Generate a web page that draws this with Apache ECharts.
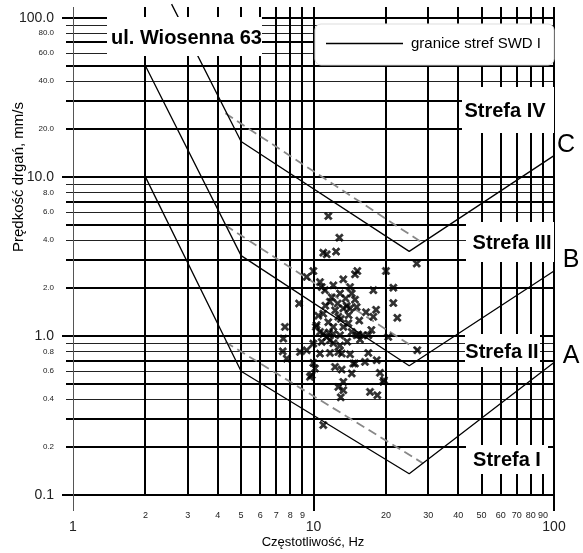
<!DOCTYPE html>
<html>
<head>
<meta charset="utf-8">
<script src="https://cdn.jsdelivr.net/npm/echarts@6/dist/echarts.min.js"></script>
<style>
  html, body { margin: 0; padding: 0; background: #fff; }
  #chart { width: 583px; height: 553px; }
</style>
</head>
<body>
<div id="chart"></div>
<script>
// ── Dane ──────────────────────────────────────────────────────────────
const X_MIN = 1, X_MAX = 100;
const Y_MIN = 0.1, Y_MAX = 117;

const xGrid = [1, 2, 3, 4, 5, 6, 7, 8, 9, 10, 20, 30, 40, 50, 60, 70, 80, 90, 100];
const yGrid = [0.1, 0.2, 0.3, 0.4, 0.5, 0.6, 0.7, 0.8, 0.9,
               1, 2, 3, 4, 5, 6, 7, 8, 9,
               10, 20, 30, 40, 50, 60, 70, 80, 90, 100];

const xTickVals = [1, 2, 3, 4, 5, 6, 7, 8, 9, 10, 20, 30, 40, 50, 60, 70, 80, 90, 100];
const xTickText = ['1', '2', '3', '4', '5', '6', '7', '8', '9', '10', '20', '30', '40', '50', '60', '70', '80', '90', '100'];
const yTickVals = [0.1, 0.2, 0.4, 0.6, 0.8, 1, 2, 4, 6, 8, 10, 20, 40, 60, 80, 100];
const yTickText = ['0.1', '0.2', '0.4', '0.6', '0.8', '1.0', '2.0', '4.0', '6.0', '8.0', '10.0', '20.0', '40.0', '60.0', '80.0', '100.0'];

// granice stref (solid) i linie przerywane
const lineA = [[2, 10], [5, 0.6], [25, 0.136], [100, 0.68]];
const lineB = [[2, 50], [5, 3.2], [25, 0.65], [100, 2.56]];
const lineC = [[2.57, 122], [5, 16.7], [25, 3.4], [100, 13.6]];
const dashA = [[4.3, 0.916], [28.6, 0.158]];
const dashB = [[4.3, 4.96], [29.2, 0.76]];
const dashC = [[4.3, 25.1], [28.3, 3.86]];

// pomiary [Hz, mm/s]
const pomiary = [
  [11.52, 5.67], [12.81, 4.15], [10.98, 3.34], [11.35, 3.26], [12.41, 3.39],
  [26.86, 2.85], [20.02, 2.56], [15.21, 2.56], [14.88, 2.44], [9.98, 2.56],
  [9.37, 2.35], [10.64, 2.18], [13.3, 2.27], [17.73, 1.94], [21.47, 2.01],
  [10.82, 2.03], [11.16, 1.94], [12.09, 2.08], [12.89, 1.85], [14.19, 2.03],
  [14.42, 1.85], [8.71, 1.6], [21.47, 1.61], [22.31, 1.3], [11.71, 1.64],
  [14.88, 1.69], [13.75, 1.54], [13.3, 1.49], [14.19, 1.49], [15.12, 1.52],
  [16.53, 1.41], [18.2, 1.46], [17.73, 1.32], [10.47, 1.34], [10.98, 1.38],
  [11.52, 1.22], [12.68, 1.32], [12.09, 1.14], [13.96, 1.2], [14.42, 1.06],
  [10.24, 1.14], [7.61, 1.14], [7.49, 0.963], [10.64, 1.06], [10.82, 0.917],
  [11.35, 0.986], [11.71, 0.94], [12.89, 1.01], [15.36, 1.02], [16.9, 1.01],
  [20.46, 0.986], [15.61, 0.949], [9.37, 0.813], [8.79, 0.793], [10.64, 0.775],
  [11.71, 0.782], [12.68, 0.793], [13.1, 0.775], [14.19, 0.767], [16.9, 0.782],
  [27.02, 0.813], [7.45, 0.8], [7.74, 0.72], [9.98, 0.677], [18.32, 0.704],
  [16.37, 0.687], [14.88, 0.671], [12.29, 0.639], [13.1, 0.615], [10.14, 0.624],
  [9.83, 0.567], [14.42, 0.581], [18.9, 0.586], [9.67, 0.553], [14.64, 0.671],
  [19.64, 0.527], [13.3, 0.514], [12.68, 0.478], [13.3, 0.456], [17.18, 0.445],
  [18.42, 0.424], [12.98, 0.411], [10.98, 0.275], [19.51, 0.514],
  [10.3, 1.17], [10.98, 1.03], [12.09, 1.03], [13.3, 1.14], [15.12, 1.01],
  [16.0, 1.01], [17.4, 1.09], [9.98, 0.895], [12.89, 0.87], [11.9, 1.75],
  [12.6, 1.6], [13.6, 1.72], [11.2, 1.55], [12.3, 1.45], [13.0, 1.28],
  [14.0, 1.35], [15.5, 1.25], [11.6, 1.05], [13.8, 0.92], [12.1, 0.9]
];

// ── Pomocnicze ────────────────────────────────────────────────────────
const FONT = '"Liberation Sans", Arial, sans-serif';

function mant(v) {
  const e = Math.floor(Math.log10(v) + 1e-9);
  return Math.round(v / Math.pow(10, e));
}

function hLine(params, api) {
  const v = api.value(1);
  const l = api.coord([X_MIN, v]);
  const r = api.coord([X_MAX, v]);
  const m = mant(v);
  const thick = [1, 2, 3, 5, 7].indexOf(m) >= 0;
  const w = thick ? 2 : 1;
  const y = thick ? Math.round(l[1]) : Math.round(l[1] - 0.5) + 0.5;
  const x0 = l[0] - (m === 1 ? 11 : 7);
  return {
    type: 'line',
    shape: { x1: x0, y1: y, x2: r[0], y2: y },
    style: { stroke: thick ? '#000' : '#222', lineWidth: w }
  };
}

function vLine(params, api) {
  const v = api.value(0);
  const t = api.coord([v, Y_MAX]);
  const b = api.coord([v, Y_MIN]);
  const major = mant(v) === 1;
  if (v === 1) {
    const x = Math.round(t[0]) + 0.5;
    return { type: 'line', shape: { x1: x, y1: t[1], x2: x, y2: b[1] + 16 }, style: { stroke: '#555', lineWidth: 1 } };
  }
  const x = Math.round(t[0]);
  return {
    type: 'line',
    shape: { x1: x, y1: t[1], x2: x, y2: b[1] + (major ? 16 : 0) },
    style: { stroke: '#000', lineWidth: 2 }
  };
}

function xLabel(params, api) {
  const v = api.value(0);
  const p = api.coord([v, Y_MIN]);
  const major = mant(v) === 1;
  return {
    type: 'text',
    style: {
      x: p[0], y: p[1] + (major ? 32 : 21),
      text: xTickText[params.dataIndex],
      align: 'center', verticalAlign: 'middle',
      font: (major ? '14px ' : '9px ') + FONT,
      fill: '#222'
    }
  };
}

function yLabel(params, api) {
  const v = api.value(1);
  const p = api.coord([X_MIN, v]);
  const major = mant(v) === 1;
  return {
    type: 'text',
    style: {
      x: p[0] - 19, y: p[1] + (major ? 0.5 : 0),
      text: yTickText[params.dataIndex],
      align: 'right', verticalAlign: 'middle',
      font: (major ? '14px ' : '8px ') + FONT,
      fill: '#222'
    }
  };
}

function solid(data) {
  return {
    type: 'line', data: data, showSymbol: false, clip: false, silent: true, z: 3,
    lineStyle: { color: '#000', width: 1.3 }
  };
}
function dashed(data) {
  return {
    type: 'line', data: data, showSymbol: false, clip: false, silent: true, z: 3,
    lineStyle: { color: '#888', width: 1.8, type: [9, 5] }
  };
}

function box(x, y, w, h, r) {
  return { type: 'rect', z: 100, shape: { x: x, y: y, width: w, height: h, r: r || 0 }, style: { fill: '#fff' } };
}
function txt(x, y, s, font, align) {
  return { type: 'text', z: 101, style: { x: x, y: y, text: s, font: font, fill: '#000', align: align || 'center', verticalAlign: 'middle' } };
}

const chart = echarts.init(document.getElementById('chart'), null, { renderer: 'canvas' });

chart.setOption({
  animation: false,
  backgroundColor: '#fff',
  grid: { left: 73, right: 29, top: 7, bottom: 58 },
  xAxis: { type: 'log', logBase: 10, min: X_MIN, max: X_MAX, show: false },
  yAxis: { type: 'log', logBase: 10, min: Y_MIN, max: Y_MAX, show: false },
  series: [
    { type: 'custom', z: 1, silent: true, clip: false, renderItem: hLine, data: yGrid.map(function (v) { return [1, v]; }) },
    { type: 'custom', z: 1, silent: true, clip: false, renderItem: vLine, data: xGrid.map(function (v) { return [v, 1]; }) },
    { type: 'custom', z: 1, silent: true, clip: false, renderItem: xLabel, data: xTickVals.map(function (v) { return [v, 1]; }) },
    { type: 'custom', z: 1, silent: true, clip: false, renderItem: yLabel, data: yTickVals.map(function (v) { return [1, v]; }) },
    dashed(dashA), dashed(dashB), dashed(dashC),
    solid(lineA), solid(lineB), solid(lineC),
    {
      type: 'scatter', z: 4, silent: true,
      // gruby krzyżyk
      symbol: 'path://M0,2 L2,0 L5,3 L8,0 L10,2 L7,5 L10,8 L8,10 L5,7 L2,10 L0,8 L3,5 Z',
      symbolSize: 8,
      itemStyle: { color: '#000', borderColor: '#000', borderWidth: 0.6 },
      data: pomiary
    }
  ],
  graphic: [
    // tytuł
    box(107, 17, 155, 39),
    txt(111, 38, 'ul. Wiosenna 63', 'bold 20px ' + FONT, 'left'),
    // legenda
    { type: 'rect', z: 100, shape: { x: 315, y: 24, width: 239, height: 41, r: 6 }, style: { fill: '#fff', stroke: '#ddd', lineWidth: 1 } },
    { type: 'line', z: 101, shape: { x1: 326, y1: 43.5, x2: 403, y2: 43.5 }, style: { stroke: '#000', lineWidth: 1.3 } },
    txt(411, 44, 'granice stref SWD I', '15px ' + FONT, 'left'),
    // strefy
    box(462, 87, 92, 46), txt(505, 111, 'Strefa IV', 'bold 20px ' + FONT),
    box(466, 222, 88, 40), txt(512, 243, 'Strefa III', 'bold 20px ' + FONT),
    box(465, 334, 75, 33), txt(502, 352, 'Strefa II', 'bold 20px ' + FONT),
    box(466, 445, 82, 29), txt(507, 460, 'Strefa I', 'bold 20px ' + FONT),
    // litery granic
    txt(566, 145, 'C', '25px ' + FONT),
    txt(571, 260, 'B', '25px ' + FONT),
    txt(571, 356, 'A', '25px ' + FONT),
    // tytuły osi
    txt(313, 542, 'Częstotliwość, Hz', '13px ' + FONT),
    { type: 'text', z: 101, x: 19, y: 177, rotation: Math.PI / 2,
      style: { x: 0, y: 0, text: 'Prędkość drgań, mm/s', font: '15px ' + FONT, fill: '#000', align: 'center', verticalAlign: 'middle' } }
  ]
});
</script>
</body>
</html>
